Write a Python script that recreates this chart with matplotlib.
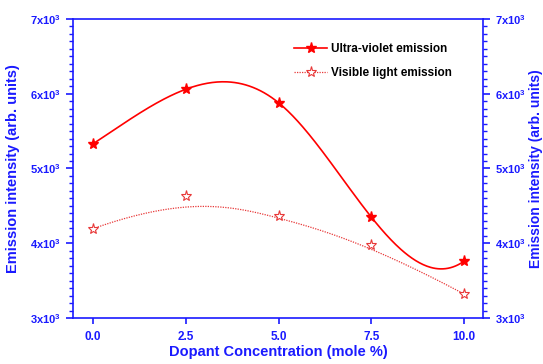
import numpy as np
import matplotlib
matplotlib.use("Agg")
import matplotlib.pyplot as plt
from matplotlib.ticker import MultipleLocator, FuncFormatter

plt.rcParams['font.family'] = ['Liberation Sans', 'DejaVu Sans']
plt.rcParams['font.weight'] = 'bold'
plt.rcParams['mathtext.fontset'] = 'custom'
plt.rcParams['mathtext.rm'] = 'Liberation Sans:bold'
plt.rcParams['mathtext.bf'] = 'Liberation Sans:bold'
plt.rcParams['mathtext.default'] = 'bf'

# dopant concentration (mole %) and measured emission intensities
conc = [0.0, 2.5, 5.0, 7.5, 10.0]
uv_emission = [5330, 6060, 5880, 4350, 3760]
visible_emission = [4195, 4637, 4365, 3977, 3321]

BLUE = '#1a1aff'
RED = '#ff0000'
PINK = '#e83838'


def knot_spline(x, y, n=300):
    # not-a-knot cubic spline through every point
    x = np.asarray(x, float)
    y = np.asarray(y, float)
    k = len(x)
    h = np.diff(x)
    A = np.zeros((k, k))
    b = np.zeros(k)
    A[0, 0], A[0, 1], A[0, 2] = h[1], -(h[0] + h[1]), h[0]
    A[-1, -3], A[-1, -2], A[-1, -1] = h[-1], -(h[-2] + h[-1]), h[-2]
    for i in range(1, k - 1):
        A[i, i - 1] = h[i - 1]
        A[i, i] = 2 * (h[i - 1] + h[i])
        A[i, i + 1] = h[i]
        b[i] = 6 * ((y[i + 1] - y[i]) / h[i] - (y[i] - y[i - 1]) / h[i - 1])
    m = np.linalg.solve(A, b)
    xs = np.linspace(x[0], x[-1], n)
    idx = np.clip(np.searchsorted(x, xs) - 1, 0, k - 2)
    x0, x1 = x[idx], x[idx + 1]
    hh = h[idx]
    ys = (m[idx] * (x1 - xs) ** 3 / (6 * hh) + m[idx + 1] * (xs - x0) ** 3 / (6 * hh)
          + (y[idx] / hh - m[idx] * hh / 6) * (x1 - xs)
          + (y[idx + 1] / hh - m[idx + 1] * hh / 6) * (xs - x0))
    return xs, ys


def bspline(x, y, n=300, deg=3):
    # clamped cubic B-spline using the points as control points
    pts = np.column_stack([x, y]).astype(float)
    k = len(pts)
    inner = np.linspace(0, 1, k - deg + 1)
    knots = np.concatenate([[0] * deg, inner, [1] * deg])
    t = np.linspace(0, 1, n)
    t[-1] = 1 - 1e-9

    def basis(i, p, u):
        if p == 0:
            return ((knots[i] <= u) & (u < knots[i + 1])).astype(float)
        out = np.zeros_like(u)
        d1 = knots[i + p] - knots[i]
        d2 = knots[i + p + 1] - knots[i + 1]
        if d1 > 0:
            out += (u - knots[i]) / d1 * basis(i, p - 1, u)
        if d2 > 0:
            out += (knots[i + p + 1] - u) / d2 * basis(i + 1, p - 1, u)
        return out

    B = np.column_stack([basis(i, deg, t) for i in range(k)])
    curve = B @ pts
    return curve[:, 0], curve[:, 1]


fig = plt.figure(figsize=(5.43, 3.64), dpi=100)
ax = fig.add_axes([0.1344, 0.1264, 0.7551, 0.8214])

xs, ys = knot_spline(conc, uv_emission)
ax.plot(xs, ys, color=RED, lw=1.2)
ax.plot(conc, uv_emission, linestyle='none', marker='*', ms=8, color=RED)

xv, yv = bspline(conc, visible_emission)
ax.plot(xv, yv, color=PINK, lw=0.9, linestyle=(0, (1, 1)))
ax.plot(conc, visible_emission, linestyle='none', marker='*', ms=8,
        markerfacecolor='white', markeredgecolor=PINK, markeredgewidth=0.8)

# legend handles
ax.plot([], [], color=RED, lw=1.2, marker='*', ms=8, label='Ultra-violet emission')
ax.plot([], [], color=PINK, lw=0.9, linestyle=(0, (1, 1)), marker='*', ms=8,
        markerfacecolor='white', markeredgecolor=PINK, markeredgewidth=0.8,
        label='Visible light emission')
handles, labels = ax.get_legend_handles_labels()
ax.legend(handles, labels, loc='upper right', bbox_to_anchor=(0.951, 0.955), frameon=False,
          fontsize=8.5, handlelength=2.8, labelspacing=1.05, handletextpad=0.35)

ax.set_xlim(-0.54, 10.51)
ax.set_ylim(3000, 7000)
ax.set_xticks(conc)
ax.xaxis.set_major_formatter(FuncFormatter(lambda v, p: f'{v:.1f}'))
ax.yaxis.set_major_locator(MultipleLocator(1000))
ax.yaxis.set_minor_locator(MultipleLocator(100))
sci = FuncFormatter(lambda v, p: f'{int(round(v / 1000))}x10$^{{3}}$')
ax.yaxis.set_major_formatter(sci)

for s in ax.spines.values():
    s.set_color(BLUE)
    s.set_linewidth(1.2)
ax.tick_params(axis='both', colors=BLUE, labelsize=8.5, direction='out', width=1.2)
ax.tick_params(axis='y', which='major', length=5, labelsize=8)
ax.tick_params(axis='y', which='minor', length=3, width=1.0, color=BLUE)
ax.tick_params(axis='x', which='major', length=4, pad=5.5)
ax.tick_params(axis='y', which='both', left=True, right=True, labelleft=True, labelright=True)

ax.set_xlabel('Dopant Concentration (mole %)', color=BLUE, fontsize=10.5, fontweight='bold', labelpad=1)
ax.set_ylabel('Emission intensity (arb. units)', color=BLUE, fontsize=10.5, fontweight='bold', labelpad=7)
fig.text(0.987, 0.5375, 'Emission intensity (arb. units)', color=BLUE, fontsize=10,
         fontweight='bold', rotation=90, ha='center', va='center')

fig.savefig('out.png', dpi=100)
